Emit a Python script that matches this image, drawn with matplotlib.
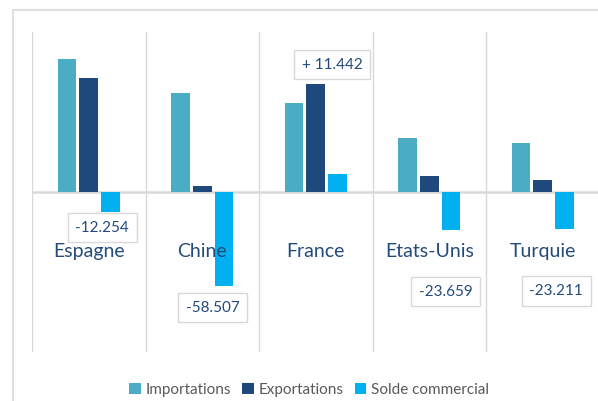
import numpy as np
import matplotlib.pyplot as plt
import matplotlib as mpl
from matplotlib.patches import Rectangle

plt.rcParams['font.family'] = ['Lato', 'DejaVu Sans']

pays = ['Espagne', 'Chine', 'France', 'Etats-Unis', 'Turquie']
importations = [83.3, 62.0, 55.8, 33.8, 30.4]
exportations = [71.0, 3.5, 67.2, 10.1, 7.2]
solde = [-12.254, -58.507, 11.442, -23.659, -23.211]
solde_txt = ['-12.254', '-58.507', '+ 11.442', '-23.659', '-23.211']
# manual label offsets (pixels) from the end of each solde bar
lbl_dx = [-8, -11, -5, -5, -8]
lbl_dy = [-16, -22, 109, -62, -62]

c_imp = '#4bacc6'
c_exp = '#1f497d'
c_sol = '#00b0f0'
grid = '#d9d9d9'
txt_blue = '#244a7c'

mpl.rcParams['figure.figsize'] = 5.98, 4.01
fig = plt.figure(dpi=100)
fig.patches.append(Rectangle((13 / 598, -0.1), 1.2, 1.1 - 10 / 401,
                             transform=fig.transFigure, fill=False,
                             edgecolor=grid, lw=1.2))
ax = fig.add_axes([32 / 598, 49 / 401, 567.5 / 598, 320 / 401])

x = np.arange(len(pays))
w = 0.163
off = 0.19
ax.bar(x - off, importations, w, color=c_imp, label='Importations', zorder=3)
ax.bar(x, exportations, w, color=c_exp, label='Exportations', zorder=3)
b3 = ax.bar(x + off, solde, w, color=c_sol, label='Solde commercial', zorder=3)

ax.set_xlim(-0.5, 4.5)
ax.set_ylim(-100, 100)
for s in ax.spines.values():
    s.set_visible(False)
ax.set_xticks([])
ax.set_yticks([])
for b in np.arange(-0.5, 5, 1):
    ax.axvline(b, color=grid, lw=1, zorder=1)
ax.axhline(0, color=grid, lw=1.8, zorder=2)

for i, p in enumerate(pays):
    ax.text(i, -37, p, ha='center', va='center', fontsize=14, color=txt_blue)

for i, r in enumerate(b3):
    ax.annotate(solde_txt[i], (r.get_x() + r.get_width() / 2, r.get_height()),
                xytext=(lbl_dx[i], lbl_dy[i]), textcoords='offset pixels',
                ha='center', va='center', fontsize=11, color=txt_blue, zorder=5,
                bbox=dict(boxstyle='square,pad=0.5', fc='white', ec=grid, lw=1))

fig.legend(loc='center', bbox_to_anchor=(309 / 598, 1 - 390 / 401), ncol=3,
           frameon=False, fontsize=11, handlelength=0.75, handleheight=0.75,
           handletextpad=0.3, columnspacing=0.75, labelcolor='#595959')

plt.savefig('out.png', dpi=100)
